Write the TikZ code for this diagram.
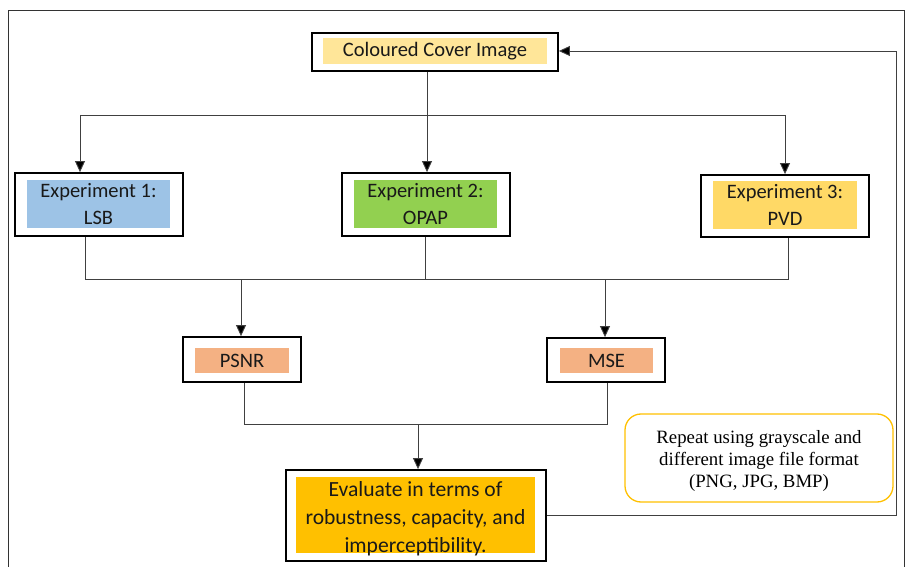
\documentclass[tikz,border=0pt]{standalone}
\usepackage{fontspec}
\setmainfont{Carlito}
\newfontfamily\serifrm{Liberation Serif}
\usetikzlibrary{arrows.meta}
\definecolor{cvr}{HTML}{FFE699}
\definecolor{lsb}{HTML}{9DC3E6}
\definecolor{opap}{HTML}{92D050}
\definecolor{pvd}{HTML}{FFD966}
\definecolor{mtr}{HTML}{F4B183}
\definecolor{evl}{HTML}{FFC000}
\definecolor{ln}{HTML}{404040}
\tikzset{
  outerbox/.style={draw=black, line width=1.8pt, fill=white, inner sep=0pt},
  innerbox/.style={inner sep=0pt, align=center, text=black!90, font=\fontsize{20.5}{27}\selectfont},
  conn/.style={draw=ln, line width=0.9pt},
  arr/.style={conn, -{Triangle[width=10pt,length=11pt,fill=black]}},
  repbox/.style={draw=evl, line width=1.3pt, rounded corners=16pt, inner sep=0pt},
  reptext/.style={align=center, font=\serifrm\fontsize{18.8}{22}\selectfont, inner sep=0pt}
}
\begin{document}
\begin{tikzpicture}[x=1pt,y=-1pt]
\useasboundingbox (0,0) rectangle (906,567);
% outer frame
\draw[line width=1pt, black!80] (8,567) -- (8,11) -- (904,11) -- (904,567);

% boxes
\node[outerbox, minimum width=246pt, minimum height=38pt] (cov) at (435,52) {};
\node[innerbox, fill=cvr, minimum width=224pt, minimum height=26pt] (covt) at (435,51) {Coloured Cover Image};

\node[outerbox, minimum width=168pt, minimum height=63pt] (e1) at (99,204.5) {};
\node[innerbox, fill=lsb, minimum width=143pt, minimum height=48pt] (e1t) at (98.5,204) {Experiment 1:\\LSB};

\node[outerbox, minimum width=168pt, minimum height=63pt] (e2) at (426,204.5) {};
\node[innerbox, fill=opap, minimum width=143pt, minimum height=48pt] (e2t) at (425.5,204) {Experiment 2:\\OPAP};

\node[outerbox, minimum width=168pt, minimum height=62pt] (e3) at (785,206) {};
\node[innerbox, fill=pvd, minimum width=144pt, minimum height=48pt] (e3t) at (785,205) {Experiment 3:\\PVD};

\node[outerbox, minimum width=118pt, minimum height=45pt] (ps) at (242,359.5) {};
\node[innerbox, fill=mtr, minimum width=94pt, minimum height=25pt] (pst) at (242,360.5) {PSNR};

\node[outerbox, minimum width=118pt, minimum height=44pt] (ms) at (606,360) {};
\node[innerbox, fill=mtr, minimum width=93pt, minimum height=25pt] (mst) at (606.5,360.5) {MSE};

\node[outerbox, minimum width=260pt, minimum height=91pt] (ev) at (416,515.5) {};
\node[innerbox, fill=evl, minimum width=239pt, minimum height=76pt] (evf) at (415.5,515) {};
\node[innerbox, font=\fontsize{21.6}{28}\selectfont] (evt) at (415.5,519) {Evaluate in terms of\\robustness, capacity, and\\imperceptibility.};

\node[repbox, minimum width=268pt, minimum height=88pt] (rep) at (759,458) {};
\node[reptext] (rept) at (759,461) {Repeat using grayscale and\\different image file format\\(PNG, JPG, BMP)};

% split from cover image
\coordinate (s0) at (427,115);
\coordinate (sL) at (80,115);
\coordinate (sR) at (785,115);
\draw[conn] (cov.south -| s0) -- (s0);
\draw[conn] (sL) -- (sR);
\draw[arr] (sL) -- (e1.north -| sL);
\draw[arr] (s0) -- (e2.north -| s0);
\draw[arr] (sR) -- (e3.north -| sR);

% merge of experiments
\coordinate (m1) at (85,279);
\coordinate (m2) at (425,279);
\coordinate (m3) at (788,279);
\coordinate (mP) at (241,279);
\coordinate (mM) at (605,279);
\draw[conn] (e1.south -| m1) -- (m1) -- (m3) -- (e3.south -| m3);
\draw[conn] (e2.south -| m2) -- (m2);
\draw[arr] (mP) -- (ps.north -| mP);
\draw[arr] (mM) -- (ms.north -| mM);

% merge of metrics
\coordinate (q1) at (244,424);
\coordinate (q2) at (607,424);
\coordinate (qE) at (418,424);
\draw[conn] (ps.south -| q1) -- (q1) -- (q2) -- (ms.south -| q2);
\draw[arr] (qE) -- (ev.north -| qE);

% feedback loop
\coordinate (f1) at (896,515);
\coordinate (f2) at (896,51);
\draw[arr] (ev.east |- f1) -- (f1) -- (f2) -- (cov.east |- f2);
\end{tikzpicture}
\end{document}
